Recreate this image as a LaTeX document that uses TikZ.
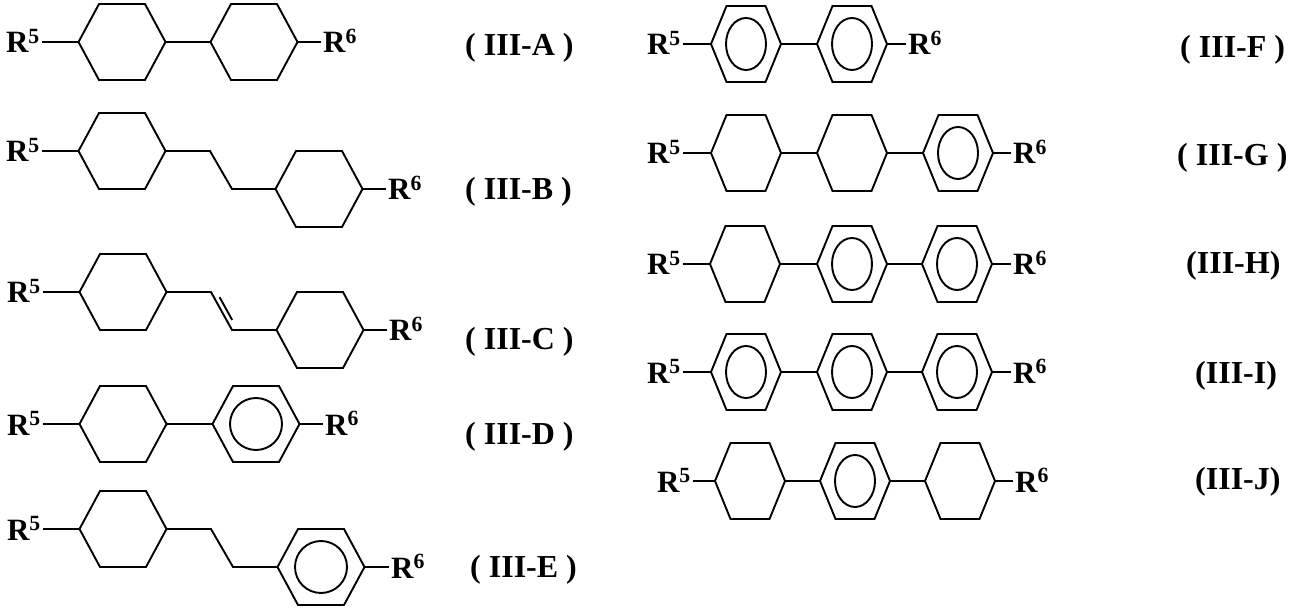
\documentclass[tikz,border=0pt]{standalone}
\usepackage{fontspec}
\setmainfont{Liberation Serif}
\newcommand{\hexring}[5]{% name, cx, cy, half width, half top
  \coordinate (#1-l) at ({#2-#4},#3);
  \coordinate (#1-r) at ({#2+#4},#3);
  \draw[bond] (#1-l) -- ({#2-#5},{#3-38}) -- ({#2+#5},{#3-38}) -- (#1-r)
    -- ({#2+#5},{#3+38}) -- ({#2-#5},{#3+38}) -- cycle;}
\newcommand{\benz}[6]{% name, cx, cy, half width, half top, inner x radius
  \hexring{#1}{#2}{#3}{#4}{#5}
  \draw[bond] (#2,#3) ellipse [x radius=#6, y radius=26];}
\begin{document}
\begin{tikzpicture}[x=1pt,y=-1pt,
    bond/.style={line width=1.9pt},
    sub/.style={font=\bfseries\fontsize{31}{32}\selectfont, inner sep=2pt},
    tag/.style={font=\bfseries\fontsize{32}{33}\selectfont, inner sep=0pt, anchor=west}]
\useasboundingbox (0,0) rectangle (1293,612);
% left column
\hexring{a1}{122}{42}{43.5}{23}
\hexring{a2}{254}{42}{43.5}{23}
\node[sub,anchor=base east] (aR5) at (42,53) {R\textsuperscript{5}};
\node[sub,anchor=base west] (aR6) at (321,53) {R\textsuperscript{6}};
\draw[bond] (a1-l) -- (aR5.east |- a1-l);
\draw[bond] (a1-r) -- (a2-l);
\draw[bond] (a2-r) -- (aR6.west |- a2-r);
\node[tag] (tA) at (465,48) {( III-A )};

\hexring{b1}{122}{151}{43.5}{23}
\hexring{b2}{319}{189}{43.5}{23}
\coordinate (b3) at (210,151);
\coordinate (b4) at (232,189);
\node[sub,anchor=base east] (bR5) at (42,162) {R\textsuperscript{5}};
\node[sub,anchor=base west] (bR6) at (386,200) {R\textsuperscript{6}};
\draw[bond] (b1-l) -- (bR5.east |- b1-l);
\draw[bond] (b1-r) -- (b3) -- (b4) -- (b2-l);
\draw[bond] (b2-r) -- (bR6.west |- b2-r);
\node[tag] (tB) at (465,192) {( III-B )};

\hexring{c1}{123}{292}{43.5}{23}
\hexring{c2}{320}{330}{43.5}{23}
\coordinate (c3) at (211,292);
\coordinate (c4) at (232,330);
\coordinate (c5) at (219.6,297.2);
\coordinate (c6) at (232.2,320);
\node[sub,anchor=base east] (cR5) at (43,303) {R\textsuperscript{5}};
\node[sub,anchor=base west] (cR6) at (387,341) {R\textsuperscript{6}};
\draw[bond] (c1-l) -- (cR5.east |- c1-l);
\draw[bond] (c1-r) -- (c3) -- (c4) -- (c2-l);
\draw[bond] (c5) -- (c6);
\draw[bond] (c2-r) -- (cR6.west |- c2-r);
\node[tag] (tC) at (465,342) {( III-C )};

\hexring{d1}{123}{424}{43.5}{23}
\benz{d2}{256}{424}{43.5}{23}{26}
\node[sub,anchor=base east] (dR5) at (43,435) {R\textsuperscript{5}};
\node[sub,anchor=base west] (dR6) at (323,435) {R\textsuperscript{6}};
\draw[bond] (d1-l) -- (dR5.east |- d1-l);
\draw[bond] (d1-r) -- (d2-l);
\draw[bond] (d2-r) -- (dR6.west |- d2-r);
\node[tag] (tD) at (465,437) {( III-D )};

\hexring{e1}{123}{529}{43.5}{23}
\benz{e2}{321}{567}{43.5}{23}{26}
\coordinate (e3) at (211,529);
\coordinate (e4) at (233,567);
\node[sub,anchor=base east] (eR5) at (43,540) {R\textsuperscript{5}};
\node[sub,anchor=base west] (eR6) at (389,578) {R\textsuperscript{6}};
\draw[bond] (e1-l) -- (eR5.east |- e1-l);
\draw[bond] (e1-r) -- (e3) -- (e4) -- (e2-l);
\draw[bond] (e2-r) -- (eR6.west |- e2-r);
\node[tag] (tE) at (470,570) {( III-E )};

% right column
\benz{f1}{746}{44}{35}{19.5}{20}
\benz{f2}{852}{44}{35}{19.5}{20}
\node[sub,anchor=base east] (fR5) at (683,55) {R\textsuperscript{5}};
\node[sub,anchor=base west] (fR6) at (906,55) {R\textsuperscript{6}};
\draw[bond] (f1-l) -- (fR5.east |- f1-l);
\draw[bond] (f1-r) -- (f2-l);
\draw[bond] (f2-r) -- (fR6.west |- f2-r);
\node[tag] (tF) at (1180,50) {( III-F )};

\hexring{g1}{746}{153}{35}{19.5}
\hexring{g2}{852}{153}{35}{19.5}
\benz{g3}{958}{153}{35}{19.5}{20}
\node[sub,anchor=base east] (gR5) at (683,164) {R\textsuperscript{5}};
\node[sub,anchor=base west] (gR6) at (1011,164) {R\textsuperscript{6}};
\draw[bond] (g1-l) -- (gR5.east |- g1-l);
\draw[bond] (g1-r) -- (g2-l);
\draw[bond] (g2-r) -- (g3-l);
\draw[bond] (g3-r) -- (gR6.west |- g3-r);
\node[tag] (tG) at (1177,158) {( III-G )};

\hexring{h1}{745}{264}{35}{19.5}
\benz{h2}{852}{264}{35}{19.5}{20}
\benz{h3}{957}{264}{35}{19.5}{20}
\node[sub,anchor=base east] (hR5) at (683,275) {R\textsuperscript{5}};
\node[sub,anchor=base west] (hR6) at (1011,275) {R\textsuperscript{6}};
\draw[bond] (h1-l) -- (hR5.east |- h1-l);
\draw[bond] (h1-r) -- (h2-l);
\draw[bond] (h2-r) -- (h3-l);
\draw[bond] (h3-r) -- (hR6.west |- h3-r);
\node[tag] (tH) at (1186,266) {(III-H)};

\benz{i1}{746}{372}{35}{19.5}{20}
\benz{i2}{852}{372}{35}{19.5}{20}
\benz{i3}{957}{372}{35}{19.5}{20}
\node[sub,anchor=base east] (iR5) at (683,383) {R\textsuperscript{5}};
\node[sub,anchor=base west] (iR6) at (1011,383) {R\textsuperscript{6}};
\draw[bond] (i1-l) -- (iR5.east |- i1-l);
\draw[bond] (i1-r) -- (i2-l);
\draw[bond] (i2-r) -- (i3-l);
\draw[bond] (i3-r) -- (iR6.west |- i3-r);
\node[tag] (tI) at (1195,376) {(III-I)};

\hexring{j1}{750}{481}{35}{19.5}
\benz{j2}{855}{481}{35}{19.5}{20}
\hexring{j3}{960}{481}{35}{19.5}
\node[sub,anchor=base east] (jR5) at (693,492) {R\textsuperscript{5}};
\node[sub,anchor=base west] (jR6) at (1013,492) {R\textsuperscript{6}};
\draw[bond] (j1-l) -- (jR5.east |- j1-l);
\draw[bond] (j1-r) -- (j2-l);
\draw[bond] (j2-r) -- (j3-l);
\draw[bond] (j3-r) -- (jR6.west |- j3-r);
\node[tag] (tJ) at (1195,482) {(III-J)};
\end{tikzpicture}
\end{document}
